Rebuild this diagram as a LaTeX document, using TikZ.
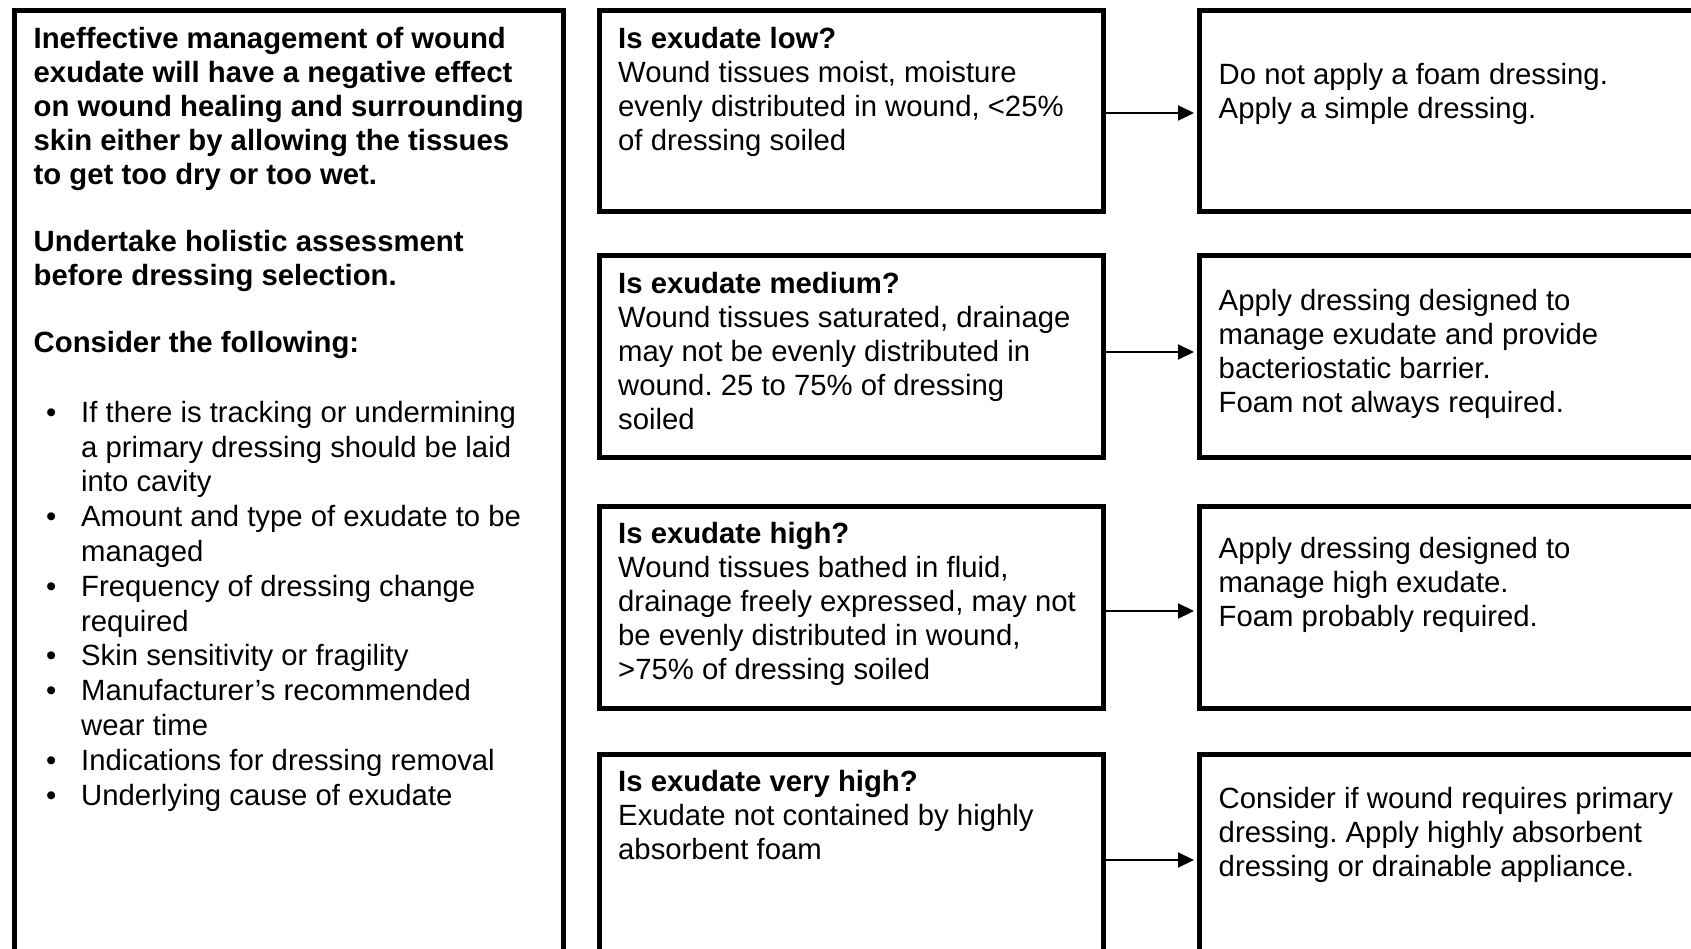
\documentclass[tikz,border=0pt]{standalone}
\usepackage{fontspec}
\setmainfont{Liberation Sans}
\usetikzlibrary{arrows.meta}
\newcommand\fsz{\fontsize{29.3pt}{34pt}\selectfont}
\newcommand\bitem[1]{\par\hangindent=47.5pt\hangafter=1\noindent\makebox[47.5pt][l]{\hspace{12.5pt}\textbullet}#1}
\newcommand\tb[2]{\parbox[t]{#1}{\fsz\frenchspacing\raggedright #2}}
\tikzset{
  box/.style={draw=black, line width=5pt, fill=none, inner sep=0pt, anchor=north west, rectangle},
  txt/.style={anchor=base west, inner sep=0pt, text=black},
  arr/.style={draw=black, line width=2pt, -{Triangle[length=16pt,width=15pt]}, shorten >=2.5pt}
}
\begin{document}
\begin{tikzpicture}[x=1pt,y=-1pt]
\clip (0,0) rectangle (1691,949);
\fill[white] (0,0) rectangle (1691,949);
% boxes
\node[box, minimum width=549pt, minimum height=992pt] (L) at (11.5,8) {};
\node[box, minimum width=504pt, minimum height=201pt] (m1) at (596.5,8) {};
\node[box, minimum width=504pt, minimum height=201.5pt] (m2) at (596.5,253.5) {};
\node[box, minimum width=504pt, minimum height=202pt] (m3) at (596.5,503.5) {};
\node[box, minimum width=504pt, minimum height=260pt] (m4) at (596.5,752) {};
\node[box, minimum width=560pt, minimum height=201pt] (r1) at (1196.5,8) {};
\node[box, minimum width=560pt, minimum height=201.5pt] (r2) at (1196.5,253.5) {};
\node[box, minimum width=560pt, minimum height=202pt] (r3) at (1196.5,503.5) {};
\node[box, minimum width=560pt, minimum height=260pt] (r4) at (1196.5,752) {};
% texts
\node[txt] (Lt) at ([xshift=22pt,yshift=-40.2pt]L.north west) {\tb{540pt}{\bfseries Ineffective management of wound\\ exudate will have a negative effect\\ on wound healing and surrounding\\ skin either by allowing the tissues\\ to get too dry or too wet.\\[33pt] Undertake holistic assessment\\ before dressing selection.\\[33pt] Consider the following:\par\fontsize{29.3pt}{34.8pt}\selectfont\vspace{35.3pt}\mdseries
\bitem{If there is tracking or undermining\newline a primary dressing should be laid\newline into cavity}
\bitem{Amount and type of exudate to be\newline managed}
\bitem{Frequency of dressing change\newline required}
\bitem{Skin sensitivity or fragility}
\bitem{Manufacturer’s recommended\newline wear time}
\bitem{Indications for dressing removal}
\bitem{Underlying cause of exudate}}};
\node[txt] (m1t) at ([xshift=21.5pt,yshift=-40.5pt]m1.north west) {\tb{500pt}{\textbf{Is exudate low?}\\ Wound tissues moist, moisture\\ evenly distributed in wound, <25\%\\ of dressing soiled}};
\node[txt] (m2t) at ([xshift=21.5pt,yshift=-40.5pt]m2.north west) {\tb{500pt}{\textbf{Is exudate medium?}\\ Wound tissues saturated, drainage\\ may not be evenly distributed in\\ wound. 25 to 75\% of dressing\\ soiled}};
\node[txt] (m3t) at ([xshift=21.5pt,yshift=-39.7pt]m3.north west) {\tb{500pt}{\textbf{Is exudate high?}\\ Wound tissues bathed in fluid,\\ drainage freely expressed, may not\\ be evenly distributed in wound,\\ >75\% of dressing soiled}};
\node[txt] (m4t) at ([xshift=21.5pt,yshift=-39.3pt]m4.north west) {\tb{500pt}{\textbf{Is exudate very high?}\\ Exudate not contained by highly\\ absorbent foam}};
\node[txt] (r1t) at ([xshift=22pt,yshift=-77pt]r1.north west) {\tb{500pt}{Do not apply a foam dressing.\\ Apply a simple dressing.}};
\node[txt] (r2t) at ([xshift=22pt,yshift=-56.8pt]r2.north west) {\tb{500pt}{Apply dressing designed to\\ manage exudate and provide\\ bacteriostatic barrier.\\ Foam not always required.}};
\node[txt] (r3t) at ([xshift=22pt,yshift=-54.8pt]r3.north west) {\tb{500pt}{Apply dressing designed to\\ manage high exudate.\\ Foam probably required.}};
\node[txt] (r4t) at ([xshift=22pt,yshift=-56.5pt]r4.north west) {\tb{500pt}{Consider if wound requires primary\\ dressing. Apply highly absorbent\\ dressing or drainable appliance.}};
% arrow levels
\coordinate (a1) at (0,113);
\coordinate (a2) at (0,352);
\coordinate (a3) at (0,611);
\coordinate (a4) at (0,860);
\draw[arr] (m1.east |- a1) -- (r1.west |- a1);
\draw[arr] (m2.east |- a2) -- (r2.west |- a2);
\draw[arr] (m3.east |- a3) -- (r3.west |- a3);
\draw[arr] (m4.east |- a4) -- (r4.west |- a4);
\end{tikzpicture}
\end{document}
